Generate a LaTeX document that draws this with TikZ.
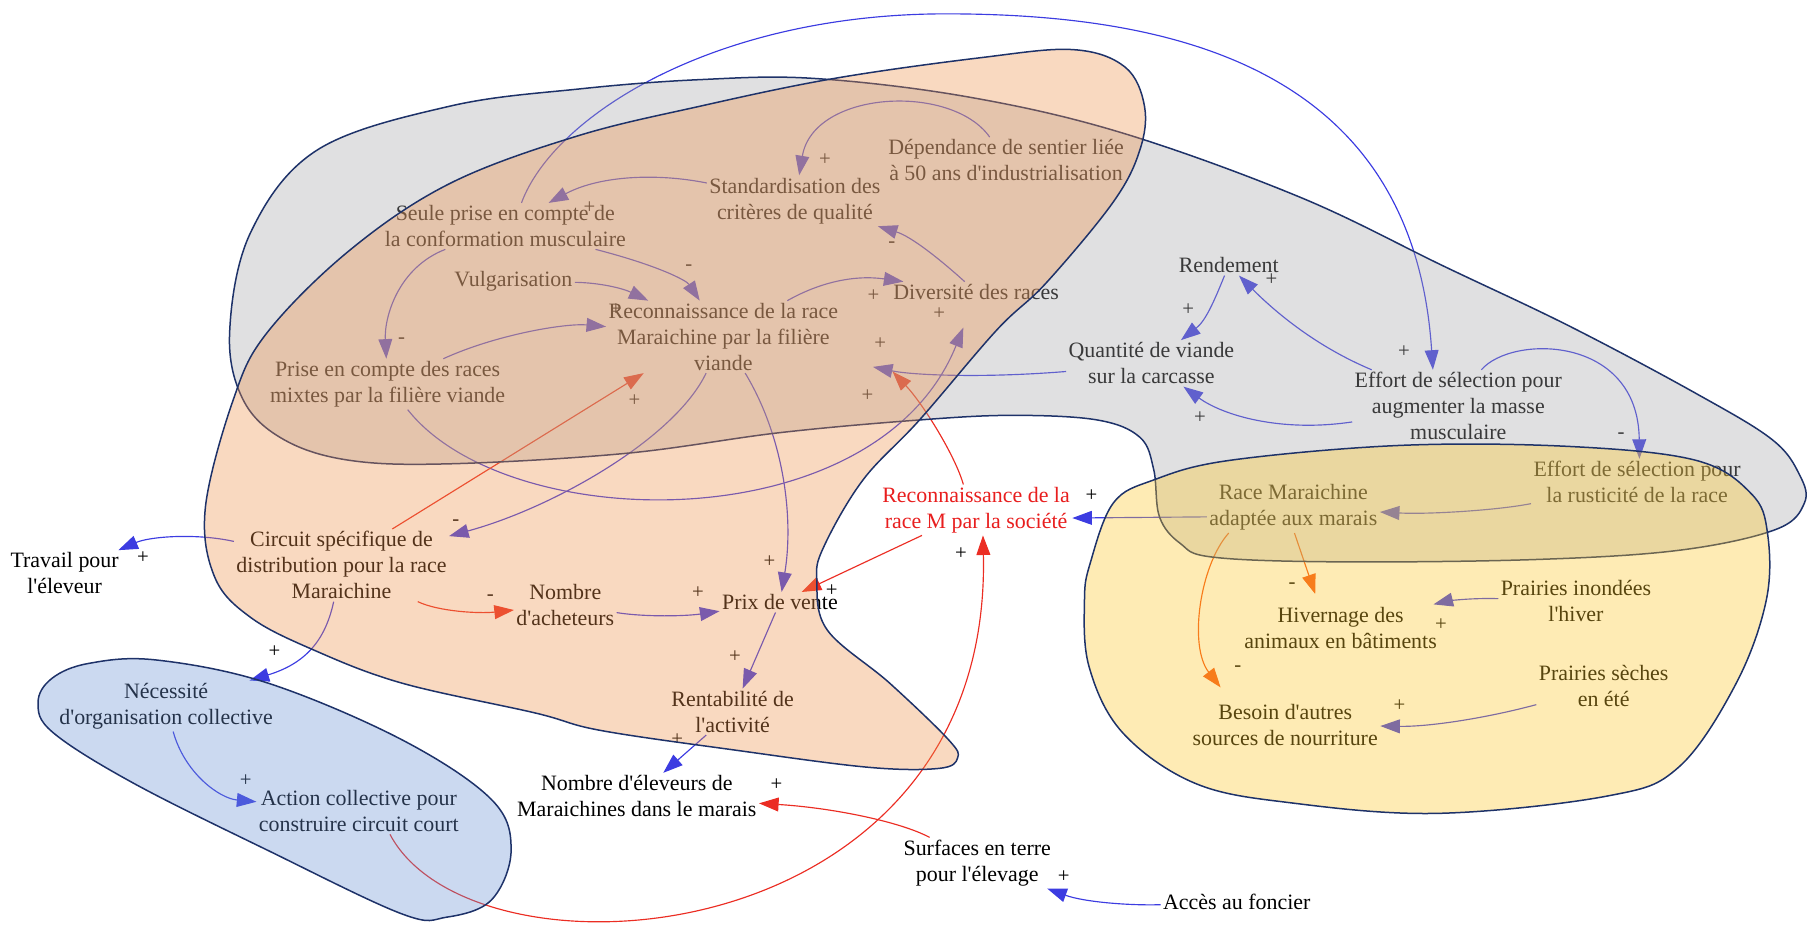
\documentclass[tikz,border=0pt]{standalone}
\usepackage{fontspec}
\setmainfont{Liberation Serif}
\usetikzlibrary{arrows.meta}
\newcommand{\aps}{\textquotesingle}
\definecolor{arrblue}{RGB}{60,60,225}
\definecolor{arrred}{RGB}{235,45,35}
\definecolor{arrorange}{RGB}{245,85,20}
\definecolor{txtred}{RGB}{232,30,30}
\definecolor{navy}{RGB}{30,50,105}
\definecolor{regray}{RGB}{166,166,168}
\definecolor{reorange}{RGB}{238,146,75}
\definecolor{reyellow}{RGB}{252,198,41}
\definecolor{reblue}{RGB}{106,146,212}
\begin{document}
\begin{tikzpicture}[x=1pt,y=-1pt,
  lbl/.style={font=\fontsize{19}{22.5}\selectfont, align=center, inner sep=2pt},
  sgn/.style={font=\fontsize{18}{20}\selectfont, inner sep=0pt},
  tip/.style={-{Triangle[length=17pt,width=12pt]}},
  bl/.style={draw=arrblue, line width=1pt, tip},
  rd/.style={draw=arrred, line width=1pt, tip},
  orr/.style={draw=arrorange, line width=1pt, tip},
  region/.style={draw=navy, line width=1.3pt, fill opacity=0.35, smooth cycle, tension=0.6}]
\useasboundingbox (0,0) rectangle (1568,804);

% ---------- nodes ----------
\node[lbl] (dep) at (872,139) {Dépendance de sentier liée\\à 50 ans d\aps industrialisation};
\node[lbl] (std) at (689,174) {Standardisation des\\critères de qualité};
\node[lbl] (seule) at (438,196) {Seule prise en compte de\\la conformation musculaire};
\node[lbl] (vulg) at (445,244) {Vulgarisation};
\node[lbl] (recf) at (627,292) {Reconnaissance de la race\\Maraichine par la filière\\viande};
\node[lbl] (div) at (846,253) {Diversité des races};
\node[lbl] (pec) at (336,333) {Prise en compte des races\\mixtes par la filière viande};
\node[lbl] (rend) at (1065,230) {Rendement};
\node[lbl] (qte) at (998,315) {Quantité de viande\\sur la carcasse};
\node[lbl] (effm) at (1264,352) {Effort de sélection pour\\augmenter la masse\\musculaire};
\node[lbl] (effr) at (1419,418) {Effort de sélection pour\\la rusticité de la race};
\node[lbl] (race) at (1121,440) {Race Maraichine\\adaptée aux marais};
\node[lbl, text=txtred] (recs) at (846,442) {Reconnaissance de la\\race M par la société};
\node[lbl] (trav) at (56,497) {Travail pour\\l\aps éleveur};
\node[lbl] (circ) at (296,490) {Circuit spécifique de\\distribution pour la race\\Maraichine};
\node[lbl] (nach) at (490,524) {Nombre\\d\aps acheteurs};
\node[lbl] (prix) at (676,522) {Prix de vente};
\node[lbl] (hiv) at (1162,544) {Hivernage des\\animaux en bâtiments};
\node[lbl] (pinon) at (1366,521) {Prairies inondées\\l\aps hiver};
\node[lbl] (nec) at (144,612) {Nécessité\\d\aps organisation collective};
\node[lbl] (rent) at (635,617) {Rentabilité de\\l\aps activité};
\node[lbl] (bes) at (1114,628) {Besoin d\aps autres\\sources de nourriture};
\node[lbl] (psec) at (1390,595) {Prairies sèches\\en été};
\node[lbl] (nel) at (552,690) {Nombre d\aps éleveurs de\\Maraichines dans le marais};
\node[lbl] (act) at (311,703) {Action collective pour\\construire circuit court};
\node[lbl] (surf) at (847,748) {Surfaces en terre\\pour l\aps élevage};
\node[lbl] (acc) at (1072,782) {Accès au foncier};

% ---------- connectors ----------
\draw[bl] (dep) .. controls (825,72) and (705,78) .. (std);
\draw[bl] (std) .. controls (570,150) and (520,152) .. (seule);
\draw[bl] (seule) .. controls (345,232) and (333,275) .. (pec);
\draw[bl] (seule) .. controls (570,230) and (595,243) .. (recf);
\draw[bl] (vulg) .. controls (520,245) and (540,250) .. (recf);
\draw[bl] (pec) .. controls (430,290) and (490,280) .. (recf);
\draw[bl] (recf) .. controls (710,245) and (740,238) .. (div);
\draw[bl] (div) .. controls (815,225) and (790,205) .. (std);
\draw[bl] (pec) .. controls (440,465) and (760,470) .. ([xshift=-11pt,yshift=-22pt]div.south);
\draw[bl] (recf) .. controls (585,380) and (480,440) .. (circ);
\draw[bl] (recf) .. controls (680,380) and (688,450) .. (prix);
\draw[rd] ([xshift=44pt]circ.north) -- ([xshift=-69pt]recf.south);
\draw[bl] ([yshift=-7pt]qte.west) .. controls (850,328) and (790,325) .. ([xshift=28pt,yshift=-26pt]recf.east);
\draw[rd] ([xshift=-11pt]recs.north) .. controls (828,395) and (800,350) .. ([xshift=45pt,yshift=-30pt]recf.east);
\draw[rd] (recs) -- (prix);
\draw[bl] (effm) .. controls (1140,300) and (1105,270) .. (rend);
\draw[bl] (rend) .. controls (1052,262) and (1045,278) .. (qte);
\draw[bl] (effm) .. controls (1110,375) and (1060,360) .. (qte);
\draw[bl] ([xshift=14pt]seule.north) .. controls (480,100) and (620,12) .. (820,12)
   .. controls (1020,12) and (1225,60) .. ([xshift=-22pt]effm.north);
\draw[bl] ([xshift=20pt]effm.north) .. controls (1310,290) and (1420,290) .. ([xshift=2pt]effr.north);
\draw[bl] (effr) .. controls (1300,442) and (1240,446) .. (race);
\draw[bl] ([yshift=-8pt]race.west) -- ([yshift=-7pt]recs.east);
\draw[orr] ([xshift=1pt]race.south) -- ([xshift=-22pt,yshift=9pt]hiv.north);
\draw[orr] ([xshift=-56pt]race.south) .. controls (1040,490) and (1030,560) .. ([xshift=-56pt,yshift=12pt]bes.north);
\draw[bl] (pinon) .. controls (1270,518) and (1250,522) .. (hiv);
\draw[bl] (psec) .. controls (1290,622) and (1240,630) .. (bes);
\draw[bl] (circ) .. controls (170,462) and (130,465) .. (trav);
\draw[rd] (circ) .. controls (380,530) and (415,532) .. (nach);
\draw[bl] (nach) .. controls (560,535) and (595,534) .. (prix);
\draw[bl] (prix) -- (rent);
\draw[bl] (circ) .. controls (282,555) and (265,575) .. (nec);
\draw[bl] (nec) .. controls (160,670) and (190,692) .. (act);
\draw[bl] (rent) -- (nel);
\draw[rd] (surf) .. controls (780,712) and (720,700) .. (nel);
\draw[rd] ([xshift=27pt]act.south) .. controls (410,860) and (860,830) .. ([xshift=6pt]recs.south);
\draw[bl] (acc) .. controls (980,785) and (940,782) .. (surf);

% ---------- signs ----------
\node[sgn] (s1) at (715,138) {+};
\node[sgn] (s2) at (511,180) {+};
\node[sgn] (s3) at (348,295) {-};
\node[sgn] (s4) at (597,232) {-};
\node[sgn] (s5) at (534,268) {+};
\node[sgn] (s6) at (757,256) {+};
\node[sgn] (s7) at (773,212) {-};
\node[sgn] (s8) at (814,272) {+};
\node[sgn] (s9) at (395,453) {-};
\node[sgn] (s10) at (667,487) {+};
\node[sgn] (s11) at (550,347) {+};
\node[sgn] (s12) at (763,298) {+};
\node[sgn] (s13) at (752,343) {+};
\node[sgn] (s14) at (721,512) {+};
\node[sgn] (s15) at (1102,242) {+};
\node[sgn] (s16) at (1030,268) {+};
\node[sgn] (s17) at (1040,362) {+};
\node[sgn] (s18) at (1217,305) {+};
\node[sgn] (s19) at (1405,378) {-};
\node[sgn] (s20) at (946,430) {+};
\node[sgn] (s21) at (1120,508) {-};
\node[sgn] (s22) at (1073,580) {-};
\node[sgn] (s23) at (1249,541) {+};
\node[sgn] (s24) at (1213,612) {+};
\node[sgn] (s25) at (124,483) {+};
\node[sgn] (s26) at (425,518) {-};
\node[sgn] (s27) at (605,514) {+};
\node[sgn] (s28) at (637,569) {+};
\node[sgn] (s29) at (238,565) {+};
\node[sgn] (s30) at (213,677) {+};
\node[sgn] (s31) at (587,641) {+};
\node[sgn] (s32) at (673,680) {+};
\node[sgn] (s33) at (833,480) {+};
\node[sgn] (s34) at (922,760) {+};

% ---------- regions (translucent overlays) ----------
\draw[region, fill=regray] plot coordinates {(199,289) (211,347) (246,381) (303,399) (390,402) (542,393) (676,375) (797,364) (878,360) (951,364) (988,379) (1000,407) (1005,448) (1023,471) (1052,483) (1161,487) (1330,485) (1455,477) (1539,459) (1564,436) (1560,412) (1536,381) (1470,341) (1361,283) (1252,231) (1127,171) (972,115) (839,84) (706,68) (607,69) (503,77) (390,92) (275,130) (217,202)};
\draw[region, fill=reorange] plot coordinates {(607,92) (723,68) (850,50) (930,43) (975,58) (992,92) (988,130) (965,175) (907,245) (864,286) (797,364) (748,416) (714,474) (708,503) (717,546) (771,592) (822,641) (830,657) (814,666) (752,665) (636,650) (520,633) (464,618) (348,592) (271,563) (217,535) (186,500) (178,440) (202,347) (231,289) (303,217) (390,159) (500,118)};
\draw[region, fill=reyellow] plot coordinates {(1066,399) (1215,386) (1361,387) (1470,399) (1518,428) (1532,462) (1531,520) (1505,592) (1455,665) (1393,690) (1246,705) (1120,696) (1036,679) (973,635) (944,578) (940,520) (945,488) (965,436) (1000,416)};
\draw[region, fill=reblue] plot coordinates {(33,609) (45,588) (77,575) (135,572) (232,592) (348,641) (426,693) (443,737) (426,780) (387,795) (348,792) (232,737) (116,679) (46,635)};
\end{tikzpicture}
\end{document}
